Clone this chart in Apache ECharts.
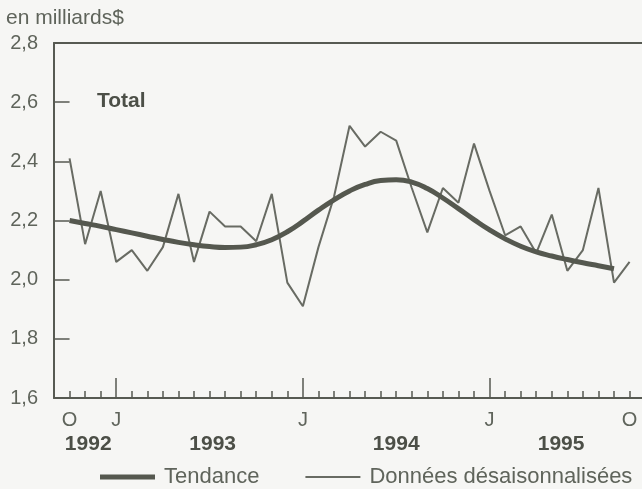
<!DOCTYPE html>
<html><head><meta charset="utf-8">
<script src="https://cdn.jsdelivr.net/npm/echarts@6/dist/echarts.min.js"></script>
<style>html,body{margin:0;padding:0;background:#f6f6f4}#c{width:642px;height:489px}</style>
</head><body><div id="c"></div>
<script>
// Monthly observations, Oct 1992 .. Oct 1995 (index 0 = Oct 1992)
const months = ['1992-10','1992-11','1992-12','1993-01','1993-02','1993-03','1993-04','1993-05','1993-06','1993-07','1993-08','1993-09','1993-10','1993-11','1993-12','1994-01','1994-02','1994-03','1994-04','1994-05','1994-06','1994-07','1994-08','1994-09','1994-10','1994-11','1994-12','1995-01','1995-02','1995-03','1995-04','1995-05','1995-06','1995-07','1995-08','1995-09','1995-10'];
const seasonallyAdjusted = [2.41,2.12,2.30,2.06,2.10,2.03,2.11,2.29,2.06,2.23,2.18,2.18,2.13,2.29,1.99,1.91,2.11,2.28,2.52,2.45,2.50,2.47,2.31,2.16,2.31,2.26,2.46,2.30,2.15,2.18,2.09,2.22,2.03,2.10,2.31,1.99,2.06];
const trend = [2.200,2.190,2.180,2.169,2.158,2.147,2.136,2.126,2.118,2.112,2.109,2.110,2.118,2.135,2.162,2.197,2.235,2.270,2.300,2.322,2.335,2.338,2.330,2.308,2.276,2.240,2.203,2.168,2.138,2.113,2.094,2.080,2.068,2.057,2.047,2.037,null];
const monthLetterTicks = {'1992-10':'O','1993-01':'J','1994-01':'J','1995-01':'J','1995-10':'O'};
const janTicks = ['1993-01','1994-01','1995-01'];
const yearLabels = ['1992','1993','1994','1995'];
const yearLabelPos = [1.2, 9.2, 21.0, 31.6];
const seriesNames = ['Tendance','Données désaisonnalisées'];

const AX = '#575a52', TXT = '#5f645b', DARK = '#4c4f47';
const FONT = '"Liberation Sans", Arial, Helvetica, sans-serif';
const idx = m => months.indexOf(m);
const letterMap = {};
Object.keys(monthLetterTicks).forEach(k => letterMap[idx(k)] = monthLetterTicks[k]);
const yearMap = {};
yearLabelPos.forEach((p, i) => yearMap[p] = yearLabels[i]);

const chart = echarts.init(document.getElementById('c'), null, {renderer: 'canvas'});
const xBase = {type: 'value', min: -1, max: 36.8, splitLine: {show: false}, gridIndex: 0};
chart.setOption({
  backgroundColor: '#f6f6f4',
  animation: false,
  textStyle: {fontFamily: FONT},
  title: [
    {text: 'en milliards$', left: 6, top: 8, padding: 0, textStyle: {fontSize: 21, fontWeight: 'normal', color: TXT, fontFamily: FONT}},
    {text: 'Total', left: 97, top: 91, padding: 0, textStyle: {fontSize: 21, fontWeight: 'bold', color: DARK, fontFamily: FONT}}
  ],
  grid: {left: 54, right: 0, top: 43, bottom: 91, containLabel: false},
  legend: {
    data: [
      {name: seriesNames[0], icon: 'path://M0,0H55V5H0Z'},
      {name: seriesNames[1], icon: 'path://M0,0H53V2H0Z'}
    ],
    left: 100, top: 466, padding: 0, itemGap: 46, itemWidth: 55, itemHeight: 12,
    textStyle: {fontSize: 22, color: TXT, fontFamily: FONT, padding: [0, 0, 0, 4]}
  },
  xAxis: [
    Object.assign({}, xBase, {
      position: 'bottom',
      axisLine: {show: true, onZero: false, lineStyle: {color: AX, width: 2}},
      axisTick: {show: true, inside: true, length: 7, lineStyle: {color: AX, width: 1.5}, customValues: months.map((m, i) => i)},
      axisLabel: {show: true, margin: 12, fontSize: 20, color: TXT, fontFamily: FONT,
        customValues: Object.keys(letterMap).map(Number), formatter: v => letterMap[v] || ''}
    }),
    Object.assign({}, xBase, {
      position: 'bottom',
      axisLine: {show: false, onZero: false},
      axisTick: {show: true, inside: true, length: 20, lineStyle: {color: AX, width: 1.5}, customValues: janTicks.map(idx)},
      axisLabel: {show: true, margin: 36, fontSize: 21, fontWeight: 'bold', color: DARK, fontFamily: FONT,
        customValues: yearLabelPos, formatter: v => yearMap[v] || ''}
    }),
    Object.assign({}, xBase, {
      position: 'top',
      axisLine: {show: true, onZero: false, lineStyle: {color: AX, width: 2}},
      axisTick: {show: false}, axisLabel: {show: false}
    })
  ],
  yAxis: [
    {type: 'value', min: 1.6, max: 2.8, interval: 0.2, position: 'left', splitLine: {show: false},
      axisLine: {show: true, onZero: false, lineStyle: {color: AX, width: 2}},
      axisTick: {show: true, inside: true, length: 8, lineStyle: {color: AX, width: 1.5}},
      axisLabel: {margin: 16, fontSize: 20, color: TXT, fontFamily: FONT, formatter: v => v.toFixed(1).replace('.', ',')}},
    {type: 'value', min: 1.6, max: 2.8, interval: 0.2, position: 'right', splitLine: {show: false},
      axisLine: {show: false},
      axisTick: {show: true, inside: true, length: 8, lineStyle: {color: AX, width: 1.5}},
      axisLabel: {show: false}}
  ],
  series: [
    {name: seriesNames[1], type: 'line', xAxisIndex: 0, yAxisIndex: 0, symbol: 'none', z: 2,
      data: seasonallyAdjusted.map((v, i) => [i, v]),
      lineStyle: {color: '#686b63', width: 2}, itemStyle: {color: '#686b63'}},
    {name: seriesNames[0], type: 'line', xAxisIndex: 0, yAxisIndex: 0, symbol: 'none', smooth: 0.5, z: 3,
      data: trend.map((v, i) => [i, v]),
      lineStyle: {color: '#55584f', width: 5}, itemStyle: {color: '#55584f'}}
  ]
});
</script></body></html>
